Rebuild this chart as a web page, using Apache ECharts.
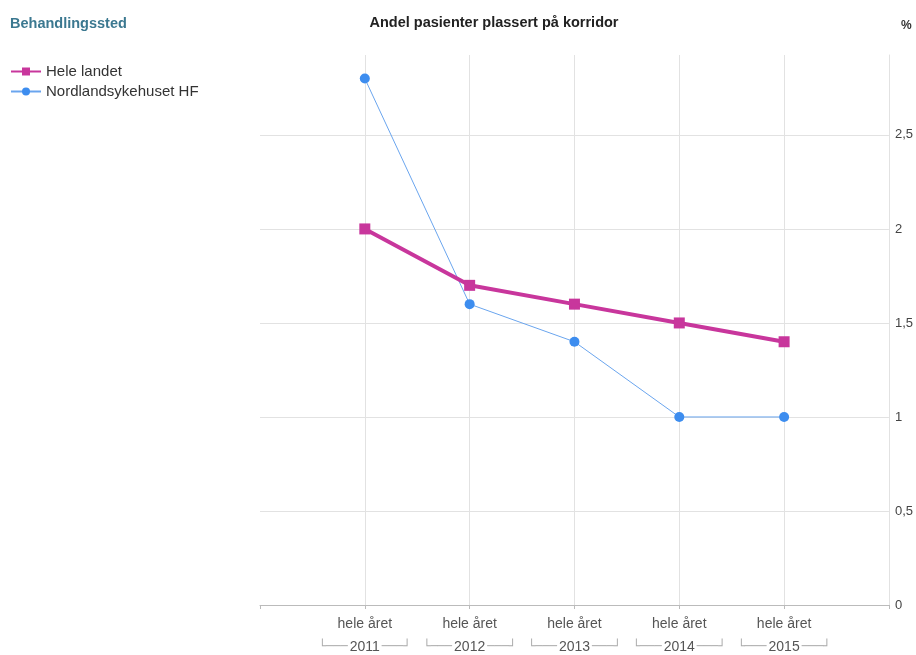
<!DOCTYPE html>
<html>
<head>
<meta charset="utf-8">
<title>Andel pasienter plassert på korridor</title>
<script src="https://cdn.jsdelivr.net/npm/echarts@6/dist/echarts.min.js"></script>
<style>
  html, body { margin: 0; padding: 0; background: #fff; }
  #chart { width: 916px; height: 655px; }
</style>
</head>
<body>
<div id="chart"></div>
<script>
// Reporting years and the period label shown above each year
const years = ['2011', '2012', '2013', '2014', '2015'];
const periodLabel = 'hele året';

// Share of patients placed in corridors (%)
const heleLandet = [2.0, 1.7, 1.6, 1.5, 1.4];
const nordlandsykehuset = [2.8, 1.6, 1.4, 1.0, 1.0];

const seriesNames = ['Hele landet', 'Nordlandsykehuset HF'];
const yTicks = [0, 0.5, 1, 1.5, 2, 2.5];

// One empty slot on each side keeps the years inset from the plot edges
const cats = [''].concat(years, ['']);
const pad = arr => [null].concat(arr, [null]);

const chart = echarts.init(document.getElementById('chart'));
const font = 'Liberation Sans, Arial, Helvetica, sans-serif';

chart.setOption({
  animation: false,
  textStyle: { fontFamily: font },
  title: [
    {
      text: 'Andel pasienter plassert på korridor',
      left: 489, top: 10, textAlign: 'center',
      textStyle: { fontSize: 14.5, fontWeight: 'bold', color: '#222', fontFamily: font }
    },
    {
      text: 'Behandlingssted',
      left: 5, top: 11,
      textStyle: { fontSize: 14.5, fontWeight: 'bold', color: '#3b7890', fontFamily: font }
    },
    {
      text: '%',
      left: 896, top: 15,
      textStyle: { fontSize: 12, fontWeight: 'bold', color: '#333', fontFamily: font }
    }
  ],
  legend: {
    orient: 'vertical',
    left: 5, top: 59,
    itemGap: 5,
    itemWidth: 30, itemHeight: 10,
    textStyle: { fontSize: 15, color: '#333', fontFamily: font },
    data: seriesNames
  },
  grid: { left: 260, right: 26, top: 55, bottom: 50 },
  xAxis: {
    type: 'category',
    data: cats,
    boundaryGap: false,
    axisLine: { show: true, lineStyle: { color: '#bbb' } },
    axisTick: { show: true, alignWithLabel: true, length: 4, lineStyle: { color: '#bbb' } },
    splitLine: { show: true, showMinLine: false, showMaxLine: false, lineStyle: { color: '#e2e2e2' } },
    axisLabel: {
      interval: 0,
      margin: 4,
      formatter: v => v ? '{p|' + periodLabel + '}\n{br|└───}{y|' + v + '}{br|───┘}' : '',
      rich: {
        p: { fontSize: 14, color: '#555', fontFamily: font, lineHeight: 31, align: 'center' },
        y: { fontSize: 14, color: '#555', fontFamily: font, padding: [0, 2, 0, 2] },
        br: { fontSize: 12, color: '#aaa', fontFamily: 'DejaVu Sans Mono' }
      }
    }
  },
  yAxis: {
    type: 'value',
    position: 'right',
    min: 0, max: 2.925, interval: 0.5,
    axisLine: { show: true, lineStyle: { color: '#e2e2e2' } },
    axisTick: { show: false },
    splitLine: { show: true, showMaxLine: false, lineStyle: { color: '#e2e2e2' } },
    axisLabel: {
      margin: 6,
      fontSize: 13, color: '#444', fontFamily: font,
      formatter: v => yTicks.indexOf(v) >= 0 ? String(v).replace('.', ',') : ''
    }
  },
  series: [
    {
      name: seriesNames[0],
      type: 'line',
      data: pad(heleLandet),
      symbol: 'rect', symbolSize: 11,
      itemStyle: { color: '#c8369c' },
      lineStyle: { width: 4, color: '#c8369c' },
      z: 3
    },
    {
      name: seriesNames[1],
      type: 'line',
      data: pad(nordlandsykehuset),
      symbol: 'circle', symbolSize: 10,
      itemStyle: { color: '#3d8def' },
      lineStyle: { width: 1, color: '#6aa5ee' },
      z: 2
    }
  ]
});
</script>
</body>
</html>
